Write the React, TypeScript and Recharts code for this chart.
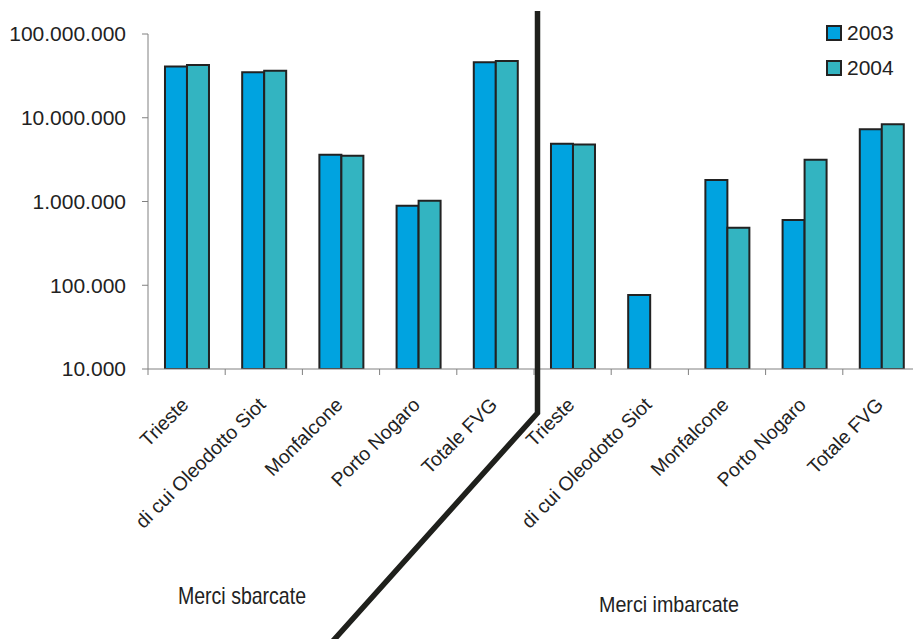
import { BarChart, Bar, XAxis, YAxis } from 'recharts';

const categories = [
  'Trieste',
  'di cui Oleodotto Siot',
  'Monfalcone',
  'Porto Nogaro',
  'Totale FVG',
  'Trieste',
  'di cui Oleodotto Siot',
  'Monfalcone',
  'Porto Nogaro',
  'Totale FVG',
];
const values2003 = [40800000, 35000000, 3610000, 890000, 46000000, 4880000, 76400, 1800000, 600000, 7310000];
const values2004 = [42500000, 36300000, 3510000, 1020000, 47700000, 4790000, null, 485000, 3150000, 8390000];
const yTicks = [10000, 100000, 1000000, 10000000, 100000000];
const groupLabels = ['Merci sbarcate', 'Merci imbarcate'];
const seriesNames = ['2003', '2004'];
const seriesColors = ['#00a3e0', '#33b4c1'];

const data = categories.map((name, i) => ({
  key: `${i}`,
  name,
  y2003: values2003[i],
  y2004: values2004[i],
}));

const CHART_W = 925;
const CHART_H = 639;
const LEFT = 148;
const RIGHT_M = 5;
const BAND = (CHART_W - LEFT - RIGHT_M) / categories.length;
const FONT = "'Liberation Sans', Arial, sans-serif";
const TEXT = '#222';
const AXIS = '#808080';

const fmt = (v: number) => String(v).replace(/\B(?=(\d{3})+(?!\d))/g, '.');

const CategoryTick = (props: any) => {
  const { x, y, index, payload } = props;
  const last = index === categories.length - 1;
  return (
    <g>
      <line x1={x - BAND / 2} x2={x - BAND / 2} y1={y} y2={y + 6} stroke={AXIS} />
      {last && <line x1={x + BAND / 2} x2={x + BAND / 2} y1={y} y2={y + 6} stroke={AXIS} />}
      <text
        x={x + 3}
        y={y + 37}
        textAnchor="end"
        fontSize={19.5}
        fontFamily={FONT}
        fill={TEXT}
        transform={`rotate(-45, ${x + 3}, ${y + 37})`}
      >
        {categories[Number(payload.value)]}
      </text>
    </g>
  );
};

export default function App() {
  return (
    <div
      style={{
        position: 'absolute',
        left: 0,
        top: 0,
        width: 913,
        height: 639,
        overflow: 'hidden',
        background: '#fff',
      }}
    >
      <BarChart
        width={CHART_W}
        height={CHART_H}
        data={data}
        margin={{ top: 34, right: RIGHT_M, bottom: 0, left: 0 }}
        barCategoryGap="22%"
        barGap={0}
      >
        <XAxis
          dataKey="key"
          height={270}
          interval={0}
          tickSize={0}
          tickMargin={0}
          tickLine={false}
          stroke={AXIS}
          tick={<CategoryTick />}
        />
        <YAxis
          scale="log"
          domain={[10000, 100000000]}
          ticks={yTicks}
          allowDataOverflow
          width={LEFT}
          tickSize={6}
          tickMargin={16}
          stroke={AXIS}
          tick={{ fill: TEXT, fontSize: 21, fontFamily: FONT }}
          tickFormatter={fmt}
        />
        <Bar dataKey="y2003" name={seriesNames[0]} fill={seriesColors[0]} stroke="#222" strokeWidth={2} isAnimationActive={false} />
        <Bar dataKey="y2004" name={seriesNames[1]} fill={seriesColors[1]} stroke="#222" strokeWidth={2} isAnimationActive={false} />
      </BarChart>

      {/* legend, top right */}
      <div
        style={{
          position: 'absolute',
          left: 826,
          top: 15,
          fontFamily: FONT,
          fontSize: 21,
          color: TEXT,
        }}
      >
        {seriesNames.map((label, i) => (
          <div key={label} style={{ display: 'flex', alignItems: 'center', height: 35 }}>
            <span
              style={{
                width: 12,
                height: 12,
                background: seriesColors[i],
                border: '2px solid #222',
                marginRight: 5,
              }}
            />
            <span>{label}</span>
          </div>
        ))}
      </div>

      {/* separator line and group labels */}
      <svg
        width={913}
        height={639}
        style={{ position: 'absolute', left: 0, top: 0, pointerEvents: 'none' }}
      >
        <polyline
          points="537.5,11 537.5,413 332,642"
          fill="none"
          stroke="#1f201c"
          strokeWidth={5.5}
          strokeLinejoin="miter"
        />
        <text x={178} y={604} fontSize={24} fontFamily={FONT} fill={TEXT} textLength={128} lengthAdjust="spacingAndGlyphs">
          {groupLabels[0]}
        </text>
        <text x={599} y={612} fontSize={22} fontFamily={FONT} fill={TEXT} textLength={140} lengthAdjust="spacingAndGlyphs">
          {groupLabels[1]}
        </text>
      </svg>
    </div>
  );
}
